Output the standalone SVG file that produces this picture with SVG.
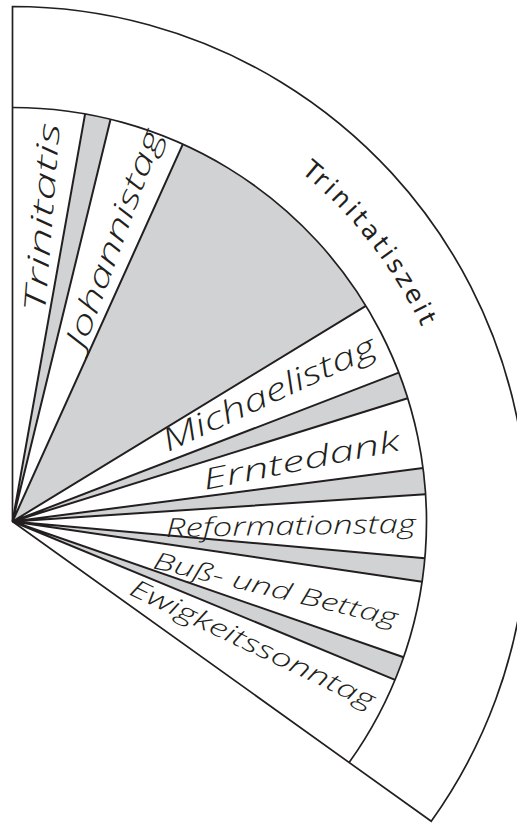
<svg xmlns="http://www.w3.org/2000/svg" width="517" height="828" viewBox="0 0 517 828">
<style>
.bg{fill:#ffffff;stroke:#231f20;stroke-width:1.7;stroke-linejoin:miter}
.gray{fill:#d1d2d4;stroke:none}
.arc{fill:none;stroke:#231f20;stroke-width:1.7}
.ray{stroke:#231f20;stroke-width:2;fill:none}
.lab{font-family:"Open Sans","Noto Sans",sans-serif;font-style:italic;font-weight:300;fill:#231f20}
.ring{font-family:"DejaVu Sans","Noto Sans",sans-serif;font-size:25px;fill:#231f20}
</style>
<defs>
<path id="ringPath" d="M291.4,164.5 A453,453 0 0 1 438.2,366.6"/>
</defs>
<rect width="517" height="828" fill="#ffffff"/>
<g id="fan">
<path class="bg" d="M12.5,521.5 L12.5,6.5 A515,515 0 0 1 431.25,821.29 Z"/>
<path class="gray" d="M12.5,521.5 L85.1,113.9 A414,414 0 0 1 110.55,119.28 Z"/>
<path class="gray" d="M12.5,521.5 L182.87,144.18 A414,414 0 0 1 365.88,305.80 Z"/>
<path class="gray" d="M12.5,521.5 L398.82,372.67 A414,414 0 0 1 407.71,398.19 Z"/>
<path class="gray" d="M12.5,521.5 L423.03,468.04 A414,414 0 0 1 425.60,494.20 Z"/>
<path class="gray" d="M12.5,521.5 L424.86,558.30 A414,414 0 0 1 422.10,581.69 Z"/>
<path class="gray" d="M12.5,521.5 L403.62,657.24 A414,414 0 0 1 395.04,679.80 Z"/>
<path class="arc" d="M12.5,107.5 A414,414 0 0 1 349.12,762.50"/>
</g>
<g id="connectors">
<path class="ray" d="M12.5,521.5 L85.1,113.9 M12.5,521.5 L110.55,119.28 M12.5,521.5 L182.87,144.18 M12.5,521.5 L365.88,305.80 M12.5,521.5 L398.82,372.67 M12.5,521.5 L407.71,398.19 M12.5,521.5 L423.03,468.04 M12.5,521.5 L425.60,494.20 M12.5,521.5 L424.86,558.30 M12.5,521.5 L422.10,581.69 M12.5,521.5 L403.62,657.24 M12.5,521.5 L395.04,679.80"/>
</g>
<g id="trinitatiszeit">
<text class="ring"><textPath href="#ringPath" startOffset="12" textLength="198" lengthAdjust="spacing">Trinitatiszeit</textPath></text>
</g>
<g id="trinitatis">
<text class="lab" font-size="30" transform="translate(45,313) rotate(-85.5)" textLength="190" lengthAdjust="spacingAndGlyphs">Trinitatis</text>
</g>
<g id="johannistag">
<text class="lab" font-size="30" transform="translate(84,350) rotate(-70)" textLength="230" lengthAdjust="spacingAndGlyphs">Johannistag</text>
</g>
<g id="michaelistag">
<text class="lab" font-size="31" transform="translate(168,452) rotate(-25)" textLength="232" lengthAdjust="spacingAndGlyphs">Michaelistag</text>
</g>
<g id="erntedank">
<text class="lab" font-size="29" transform="translate(205,490) rotate(-11.5)" textLength="200" lengthAdjust="spacingAndGlyphs">Erntedank</text>
</g>
<g id="reformationstag">
<text class="lab" font-size="26" transform="translate(166,537) rotate(-1)" textLength="250" lengthAdjust="spacingAndGlyphs">Reformationstag</text>
</g>
<g id="bussundbettag">
<text class="lab" font-size="24" transform="translate(152,568) rotate(13.5)" textLength="250" lengthAdjust="spacingAndGlyphs">Buß- und Bettag</text>
</g>
<g id="ewigkeitssonntag">
<text class="lab" font-size="25" transform="translate(128,594) rotate(25.5)" textLength="268" lengthAdjust="spacingAndGlyphs">Ewigkeitssonntag</text>
</g>
</svg>
